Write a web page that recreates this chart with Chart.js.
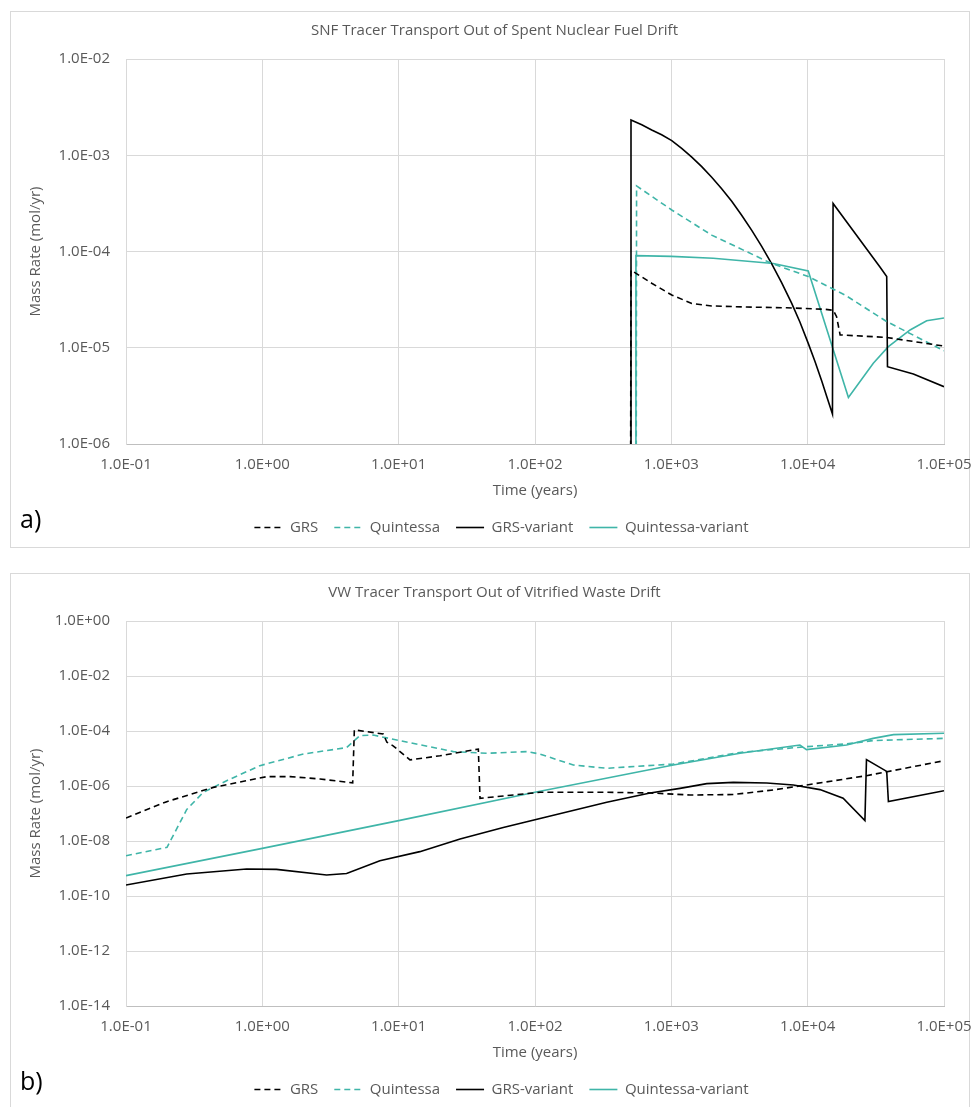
<!DOCTYPE html>
<html>
<head>
<meta charset="utf-8">
<script src="https://cdn.jsdelivr.net/npm/chart.js@4.4.1/dist/chart.umd.min.js"></script>
<style>
  body { margin: 0; background: #fff; width: 972px; height: 1107px; overflow: hidden; position: relative; font-family: "Open Sans", sans-serif; }
  .card { position: absolute; left: 10px; width: 958px; height: 535px; border: 1px solid #d9d9d9; }
  .card canvas { position: absolute; left: 0; top: 0; }
  .tag { position: absolute; left: 9px; top: 489px; font-size: 25px; color: #000; }
</style>
</head>
<body>
<div class="card" style="top:11px"><canvas id="chartA" width="962" height="535"></canvas><div class="tag">a)</div></div>
<div class="card" style="top:573px"><canvas id="chartB" width="962" height="535"></canvas><div class="tag">b)</div></div>
<script>
// axes
var xTicks = [1e-1, 1e0, 1e1, 1e2, 1e3, 1e4, 1e5];
var xTickLabels = ['1.0E-01', '1.0E+00', '1.0E+01', '1.0E+02', '1.0E+03', '1.0E+04', '1.0E+05'];
var yTicksA = [1e-6, 1e-5, 1e-4, 1e-3, 1e-2];
var yTickLabelsA = ['1.0E-06', '1.0E-05', '1.0E-04', '1.0E-03', '1.0E-02'];
var yTicksB = [1e-14, 1e-12, 1e-10, 1e-8, 1e-6, 1e-4, 1e-2, 1e0];
var yTickLabelsB = ['1.0E-14', '1.0E-12', '1.0E-10', '1.0E-08', '1.0E-06', '1.0E-04', '1.0E-02', '1.0E+00'];
var seriesNames = ['GRS', 'Quintessa', 'GRS-variant', 'Quintessa-variant'];

// a) SNF drift  (time in years, mass rate in mol/yr)
var grsTimeA = [500, 506, 718, 1007, 1412, 1978, 3560, 7000, 13400, 15400, 16300, 17300, 38000, 100000];
var grsRateA = [1e-8, 6.4e-5, 4.68e-5, 3.53e-5, 2.89e-5, 2.72e-5, 2.65e-5, 2.6e-5, 2.51e-5, 2.45e-5, 2.1e-5, 1.36e-5, 1.28e-5, 1.04e-5];
var quinTimeA = [551, 556, 1007, 1978, 5450, 10100, 18800, 38000, 100000];
var quinRateA = [1e-8, 4.8e-4, 2.7e-4, 1.48e-4, 7.5e-5, 5.5e-5, 3.53e-5, 1.87e-5, 9.3e-6];
var grsVarTimeA = [500, 506, 607, 718, 849, 1007, 1191, 1412, 1671, 1978, 2340, 2773, 3280, 3890, 4600, 5450, 6440, 7640, 8770, 10100, 11300, 12700, 13800, 15200,
    15360, 33800, 38000, 38500, 59600, 100000];
var grsVarRateA = [1e-8, 2.32e-3, 2.07e-3, 1.83e-3, 1.63e-3, 1.42e-3, 1.18e-3, 9.57e-4, 7.62e-4, 5.90e-4, 4.49e-4, 3.32e-4, 2.38e-4, 1.66e-4, 1.13e-4, 7.43e-5, 4.74e-5, 2.89e-5, 1.85e-5, 1.11e-5, 7.23e-6, 4.48e-6, 3.11e-6, 2.05e-6,
    3.16e-4, 6.95e-5, 5.5e-5, 6.35e-6, 5.33e-6, 3.94e-6];
var quinVarTimeA = [545, 550, 1000, 2030, 5600, 10100, 19900, 30300, 38900, 56400, 74600, 100000];
var quinVarRateA = [1e-8, 9.06e-5, 8.9e-5, 8.5e-5, 7.5e-5, 6.27e-5, 3.05e-6, 6.9e-6, 1.02e-5, 1.53e-5, 1.91e-5, 2.04e-5];

// b) VW drift
var grsTimeB = [0.1, 0.199, 0.437, 1.08, 1.6, 2.65, 4.6, 4.73, 7.7, 8.2, 9.1, 12.1, 20.1, 38.4, 39.5, 109, 336, 698, 1370, 2850, 5600, 9800, 27000, 100000];
var grsRateB = [6.8e-8, 2.7e-7, 8.9e-7, 2.2e-6, 2.2e-6, 1.8e-6, 1.3e-6, 1.1e-4, 7.8e-5, 3.9e-5, 2.9e-5, 8.9e-6, 1.26e-5, 2.2e-5, 3.56e-7, 5.9e-7, 5.9e-7, 5.6e-7, 4.7e-7, 4.9e-7, 7.2e-7, 1.09e-6, 2.37e-6, 8.3e-6];
var quinTimeB = [0.1, 0.2, 0.279, 0.369, 0.547, 0.96, 2.0, 4.15, 5.2, 6.5, 25.2, 44.3, 86.9, 109, 191, 336, 1035, 3190, 9800, 19300, 30200, 100000];
var quinRateB = [2.9e-9, 5.9e-9, 1.4e-7, 5.9e-7, 1.56e-6, 5.5e-6, 1.45e-5, 2.5e-5, 6.8e-5, 7.1e-5, 1.78e-5, 1.55e-5, 1.78e-5, 1.45e-5, 5.8e-6, 4.4e-6, 6.3e-6, 1.66e-5, 2.7e-5, 3.4e-5, 4.5e-5, 5.4e-5];
var grsVarTimeB = [0.1, 0.279, 0.767, 1.27, 2.96, 4.15, 7.28, 14.3, 28.2, 58.5, 109, 336, 698, 1158, 1820, 2850, 5010, 7850, 12300, 18200, 26300, 27000, 38000, 39100, 100000];
var grsVarRateB = [2.5e-10, 6.3e-10, 9.6e-10, 9.3e-10, 5.8e-10, 6.6e-10, 1.9e-9, 4.1e-9, 1.18e-8, 3.1e-8, 6.6e-8, 2.56e-7, 5.56e-7, 8.2e-7, 1.22e-6, 1.36e-6, 1.29e-6, 1.09e-6, 7.4e-7, 3.6e-7, 5.5e-8, 9.1e-6, 3.4e-6, 2.7e-7, 6.7e-7];
var quinVarTimeB = [0.1, 1, 10, 100, 1035, 3190, 8770, 9800, 19300, 30200, 42600, 100000];
var quinVarRateB = [5.5e-10, 5.4e-9, 5.5e-8, 5.9e-7, 5.8e-6, 1.55e-5, 3.1e-5, 2.1e-5, 3.1e-5, 5.4e-5, 7.4e-5, 8.3e-5];

var black = '#000000';
var teal = '#3fb5a8';
var grey = '#595959';

function pts(t, v) {
    var out = [];
    for (var i = 0; i < t.length; i++) out.push({x: t[i], y: v[i]});
    return out;
}

function line(label, data, color, dashed) {
    return {
        label: label,
        data: data,
        borderColor: color,
        backgroundColor: color,
        borderWidth: 1.6,
        borderDash: dashed ? [6, 4] : [],
        pointRadius: 0,
        tension: 0,
        fill: false
    };
}

// move title and legend a little to the right like the original
var shiftBlocks = {
    id: 'shiftBlocks',
    afterLayout: function(chart) {
        chart.legend.left += 48;
        chart.titleBlock.left += 17;
        chart.titleBlock.right += 17;
    }
};

function legendItems(chart) {
    var items = Chart.defaults.plugins.legend.labels.generateLabels(chart);
    items.forEach(function(it, i) {
        it.lineDash = chart.data.datasets[i].borderDash;
        it.lineWidth = 1.6;
    });
    return items;
}

function makeChart(id, title, sets, yMin, yMax, yTicks, yLabels) {
    var font = {family: '"Open Sans", sans-serif', size: 15};
    return new Chart(document.getElementById(id), {
        type: 'line',
        data: {datasets: sets},
        plugins: [shiftBlocks],
        options: {
            responsive: false,
            animation: false,
            layout: {padding: {left: 0, right: 29, top: 0, bottom: 2}},
            plugins: {
                title: {display: true, text: title, color: grey, font: {family: font.family, size: 15, weight: 'normal'}, padding: {top: 10, bottom: 19}},
                legend: {
                    position: 'bottom',
                    labels: {color: grey, font: font, usePointStyle: true, pointStyle: 'line', pointStyleWidth: 28, padding: 16,
                        generateLabels: legendItems}
                },
                tooltip: {enabled: false}
            },
            scales: {
                x: {
                    type: 'logarithmic',
                    min: 0.1,
                    max: 100000,
                    afterBuildTicks: function(s) { s.ticks = xTicks.map(function(v) { return {value: v}; }); },
                    afterFit: function(s) { s.height = 60; s.paddingLeft = 0; s.paddingRight = 0; },
                    ticks: {color: grey, font: font, padding: 12, maxRotation: 0, autoSkip: false,
                        callback: function(v, i) { return xTickLabels[i]; }},
                    grid: {color: '#d9d9d9', drawTicks: false},
                    border: {color: '#bfbfbf'},
                    title: {display: true, text: 'Time (years)', color: grey, font: font, padding: {top: 0, bottom: 4}}
                },
                y: {
                    type: 'logarithmic',
                    min: yMin,
                    max: yMax,
                    afterBuildTicks: function(s) { s.ticks = yTicks.map(function(v) { return {value: v}; }); },
                    afterFit: function(s) { s.width = 115; },
                    ticks: {color: grey, font: font, padding: 16, autoSkip: false,
                        callback: function(v, i) { return yLabels[i]; }},
                    grid: {color: '#d9d9d9', drawTicks: false},
                    border: {color: '#d9d9d9'},
                    title: {display: true, text: 'Mass Rate (mol/yr)', color: grey, font: font, padding: {top: 16, bottom: 0}}
                }
            }
        }
    });
}

makeChart('chartA', 'SNF Tracer Transport Out of Spent Nuclear Fuel Drift', [
    line(seriesNames[0], pts(grsTimeA, grsRateA), black, true),
    line(seriesNames[1], pts(quinTimeA, quinRateA), teal, true),
    line(seriesNames[2], pts(grsVarTimeA, grsVarRateA), black, false),
    line(seriesNames[3], pts(quinVarTimeA, quinVarRateA), teal, false)
], 1e-6, 1e-2, yTicksA, yTickLabelsA);

makeChart('chartB', 'VW Tracer Transport Out of Vitrified Waste Drift', [
    line(seriesNames[0], pts(grsTimeB, grsRateB), black, true),
    line(seriesNames[1], pts(quinTimeB, quinRateB), teal, true),
    line(seriesNames[2], pts(grsVarTimeB, grsVarRateB), black, false),
    line(seriesNames[3], pts(quinVarTimeB, quinVarRateB), teal, false)
], 1e-14, 1, yTicksB, yTickLabelsB);
</script>
</body>
</html>
